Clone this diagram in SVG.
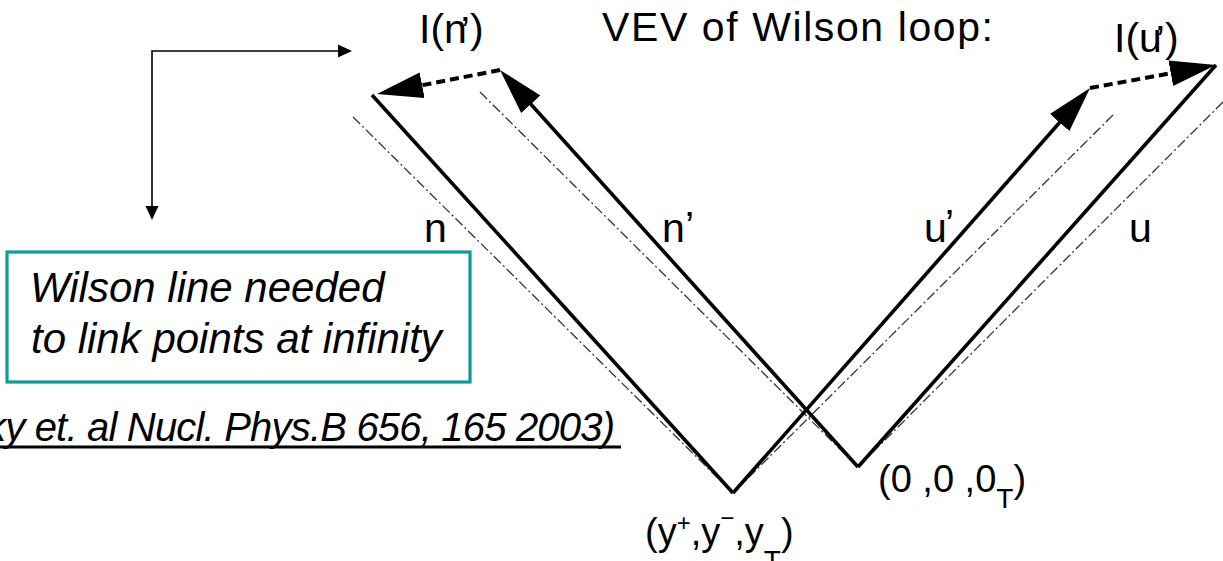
<svg xmlns="http://www.w3.org/2000/svg" width="1223" height="561" viewBox="0 0 1223 561">
<style>
text{font-family:"Liberation Sans",Arial,sans-serif;fill:#000}
.lbl{font-size:41px}
.it{font-style:italic}
.solid{stroke:#000;stroke-width:3.6;fill:none;stroke-linecap:butt}
.dash{stroke:#000;stroke-width:4;fill:none;stroke-dasharray:9 5}
.dd{stroke:#333;stroke-width:1.3;fill:none;stroke-dasharray:10 3 2 3}
.thin{stroke:#000;stroke-width:1.6;fill:none}
</style>
<defs>
<marker id="big" markerUnits="userSpaceOnUse" markerWidth="48" markerHeight="28" refX="16" refY="13" orient="auto" viewBox="0 0 48 26">
<path d="M0,0 L46,13 L0,26 z" fill="#000"/>
</marker>
<marker id="small" markerUnits="userSpaceOnUse" markerWidth="16" markerHeight="14" refX="2" refY="6.5" orient="auto-start-reverse" viewBox="0 0 16 13">
<path d="M0,0 L14,6.5 L0,13 z" fill="#000"/>
</marker>
</defs>
<rect width="1223" height="561" fill="#fff"/>

<g id="connectors">
<path class="thin" d="M152,208 V51 H340" marker-start="url(#small)" marker-end="url(#small)"/>
<line class="dd" x1="353" y1="117" x2="733" y2="493"/>
<line class="dd" x1="480" y1="92" x2="858" y2="467"/>
<line class="dd" x1="1113" y1="115" x2="733" y2="493"/>
<line class="dd" x1="1223" y1="102" x2="858" y2="467"/>
<line class="solid" x1="733" y1="493" x2="372" y2="95"/>
<line class="solid" x1="858" y1="467" x2="1216" y2="65"/>
<line class="solid" x1="858" y1="467" x2="520.1" y2="92.3" marker-end="url(#big)"/>
<line class="solid" x1="733" y1="493" x2="1070.2" y2="110.5" marker-end="url(#big)"/>
<line class="dash" x1="500" y1="70" x2="406.4" y2="88.3" marker-end="url(#big)"/>
<line class="dash" x1="1090" y1="88" x2="1186.5" y2="70.4" marker-end="url(#big)"/>
</g>

<g id="title"><text class="lbl" x="602" y="41" textLength="391">VEV of Wilson loop:</text></g>
<g id="label-In"><text class="lbl" x="419" y="43">I(n<tspan dx="-6" dy="2">’</tspan><tspan dy="-2">)</tspan></text></g>
<g id="label-Iu"><text class="lbl" x="1114" y="52">I(u<tspan dx="-6" dy="2">’</tspan><tspan dy="-2">)</tspan></text></g>
<g id="label-n"><text class="lbl" x="424" y="242">n</text></g>
<g id="label-nprime"><text class="lbl" x="662" y="242">n<tspan x="685" y="240">’</tspan></text></g>
<g id="label-uprime"><text class="lbl" x="924" y="242">u<tspan x="945" y="238">’</tspan></text></g>
<g id="label-u"><text class="lbl" x="1129" y="242">u</text></g>
<g id="label-origin"><text font-size="38" x="878" y="492">(0 ,0 ,0<tspan font-size="28" y="508">T</tspan><tspan y="492">)</tspan></text></g>
<g id="label-y"><text font-size="38" x="645" y="545">(y<tspan font-size="24" y="531">+</tspan><tspan y="545">,y</tspan><tspan font-size="24" y="526">−</tspan><tspan y="545">,y</tspan><tspan font-size="28" y="570">T</tspan><tspan y="545">)</tspan></text></g>

<g id="note">
<rect x="7" y="252" width="463" height="130" fill="none" stroke="#0e9c98" stroke-width="3.2"/>
<text class="it" font-size="42" x="30" y="302">Wilson line needed</text>
<text class="it" font-size="42" x="31" y="353">to link points at infinity</text>
</g>
<g id="citation">
<text class="it" font-size="40" x="-14" y="441" textLength="629" lengthAdjust="spacing">ky et. al Nucl. Phys.B 656, 165 2003)</text>
<line x1="0" y1="447" x2="621" y2="447" stroke="#000" stroke-width="3"/>
</g>
</svg>
